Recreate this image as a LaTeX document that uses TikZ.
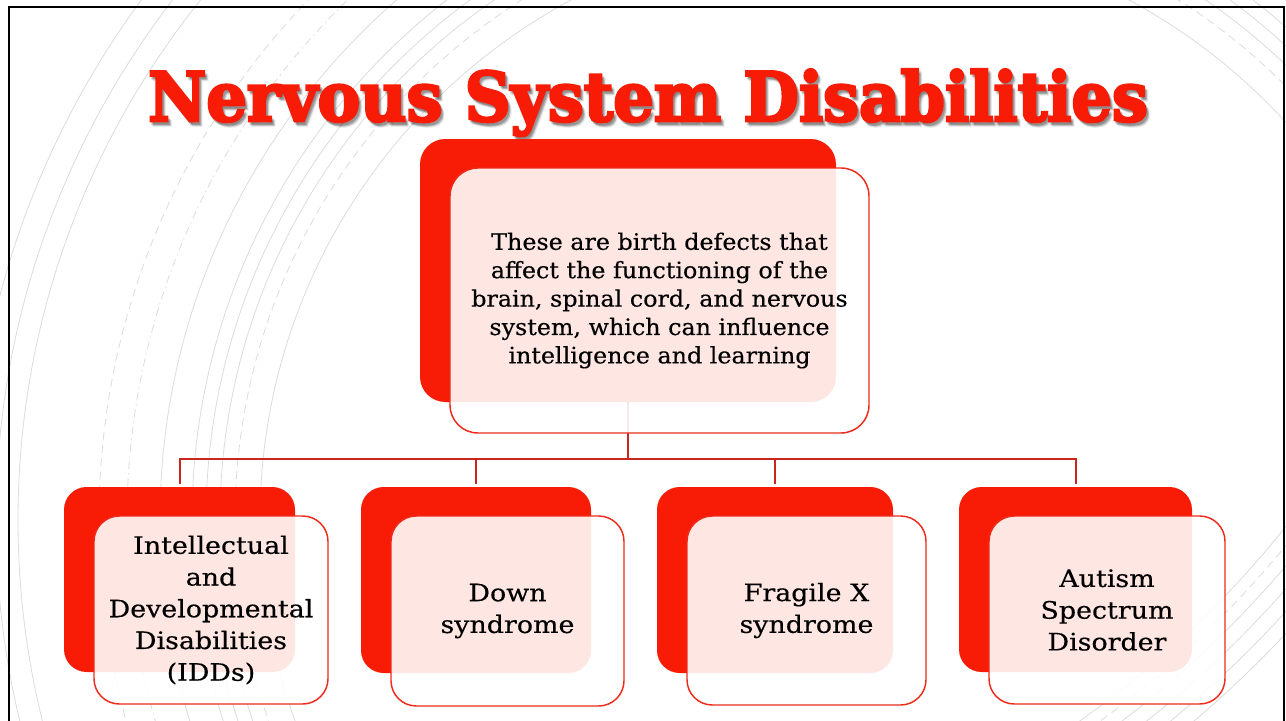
\documentclass[tikz,border=0pt]{standalone}
\usepackage{fontspec}
\setmainfont{DejaVu Serif}[FakeStretch=1.05, FakeBold=0.3]
\newfontfamily\subfont{DejaVu Serif}[FakeStretch=1.12, FakeBold=0.3]
\newfontfamily\titlefont{DejaVu Serif}[BoldFeatures={FakeBold=4}]
\usetikzlibrary{calc}

\definecolor{slidered}{RGB}{248,28,6}
\definecolor{edgered}{RGB}{238,42,26}
\definecolor{linkred}{RGB}{200,38,28}
\definecolor{arcgray}{RGB}{220,220,220}

\tikzset{
  arcline/.style={draw=arcgray, line width=0.6pt},
  arcdash/.style={arcline, dash pattern=on 6pt off 4pt},
  arcdashdot/.style={arcline, dash pattern=on 6pt off 3pt on 1pt off 3pt},
  backbox/.style={fill=slidered, draw=none, rounded corners=17pt, inner sep=0pt},
  frontbox/.style={draw=edgered, line width=1.1pt, fill=white, fill opacity=0.89,
    text opacity=1, text=black, rounded corners=19pt, inner sep=0pt, align=center},
  link/.style={draw=linkred, line width=1.5pt},
  titletext/.style={font=\titlefont\bfseries\fontsize{51pt}{51pt}\selectfont, anchor=base, inner sep=0pt},
  toptext/.style={font=\fontsize{17pt}{21.3pt}\selectfont},
  subtext/.style={font=\subfont\fontsize{18pt}{23.8pt}\selectfont},
}

\begin{document}
\begin{tikzpicture}[x=0.75pt, y=-0.75pt]
  \useasboundingbox (0,0) rectangle (1286,721);
  \fill[white] (0,0) rectangle (1286,721);

  % faint sweeping arcs in the background
  \begin{scope}
    \clip (0,0) rectangle (1286,721);
    \foreach \r in {590,630,644,658,690,832,854,879}
      \draw[arcline] (850,520) circle[radius=\r];
    \foreach \r in {615,751}
      \draw[arcdash] (850,520) circle[radius=\r];
    \draw[arcdashdot] (850,520) circle[radius=723];
    \foreach \r in {1005,1030,1045,1060,1075}
      \draw[arcline] (500,-100) circle[radius=\r];
    \draw[arcdash] (500,-100) circle[radius=1017];
  \end{scope}

  % slide frame
  \draw[line width=1.5pt] (8.5,725) -- (8.5,6.5) -- (1284,6.5) -- (1284,725);

  % title with its soft drop shadow
  \foreach \dx/\dy/\op in {3.5/4.5/0.08, 2.5/3.5/0.12, 1.5/2.5/0.14}
    \node[titletext, text=black, opacity=\op] at (648+\dx,121+\dy)
      {\resizebox{750pt}{\height}{Nervous System Disabilities}};
  \node[titletext, text=slidered] (title) at (648,121)
    {\resizebox{750pt}{\height}{Nervous System Disabilities}};

  % solid red backing panels
  \node[backbox, rounded corners=19pt, minimum width=312pt, minimum height=197.25pt] (topback) at (628,270.5) {};
  \node[backbox, minimum width=173.25pt, minimum height=138.75pt] (b1back) at (179.5,579.5) {};
  \node[backbox, minimum width=172.5pt, minimum height=139.5pt] (b2back) at (476,580) {};
  \node[backbox, minimum width=177pt, minimum height=139.5pt] (b3back) at (775,580) {};
  \node[backbox, minimum width=174.75pt, minimum height=138.75pt] (b4back) at (1075.5,579.5) {};

  % hierarchy connectors
  \draw[link] (topback.south) -- ++(0,57) coordinate (hub);
  \draw[link] (hub) -| ([yshift=2.25pt]b1back.north);
  \draw[link] (hub) -| ([yshift=2.25pt]b2back.north);
  \draw[link] (hub) -| ([yshift=2.25pt]b3back.north);
  \draw[link] (hub) -| ([yshift=2.25pt]b4back.north);

  % translucent text panels
  \node[frontbox, toptext, rounded corners=21pt, minimum width=314.25pt, minimum height=198.75pt] (topfront) at (659.5,300.5)
    {These are birth defects that\\ affect the functioning of the\\ brain, spinal cord, and nervous\\ system, which can influence\\ intelligence and learning};
  \node[frontbox, subtext, minimum width=175.5pt, minimum height=141pt] (b1front) at (211,610)
    {Intellectual\\ and\\ Developmental\\ Disabilities\\ (IDDs)};
  \node[frontbox, subtext, minimum width=174.75pt, minimum height=142.5pt] (b2front) at (507.5,611)
    {Down\\ syndrome};
  \node[frontbox, subtext, minimum width=179.25pt, minimum height=141.75pt] (b3front) at (806.5,610.5)
    {Fragile X\\ syndrome};
  \node[frontbox, subtext, minimum width=177pt, minimum height=141pt] (b4front) at (1107,610)
    {Autism\\ Spectrum\\ Disorder};
\end{tikzpicture}
\end{document}
